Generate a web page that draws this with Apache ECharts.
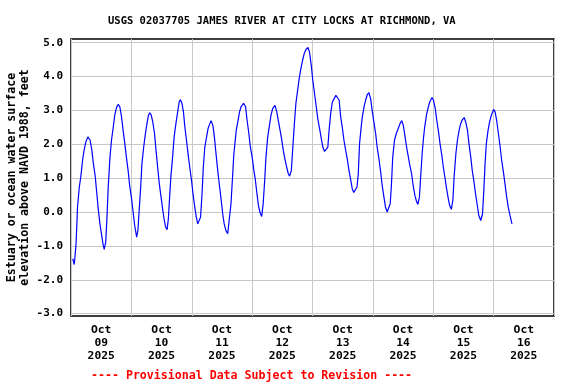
<!DOCTYPE html>
<html>
<head>
<meta charset="utf-8">
<script src="https://cdn.jsdelivr.net/npm/echarts@6/dist/echarts.min.js"></script>
<style>html,body{margin:0;padding:0;background:#fff}#c{width:576px;height:384px}</style>
</head>
<body>
<div id="c"></div>
<script>
// Hours since 2025-10-09 00:00
const hours = [0.7,1.3,2.0,2.6,3.3,3.9,4.6,5.2,5.9,6.7,7.0,7.6,8.3,8.9,9.6,10.2,10.9,11.5,12.2,12.7,13.2,13.8,14.3,14.8,15.5,16.1,16.8,17.4,18.1,18.8,19.4,20.1,20.7,21.4,22.0,22.7,23.3,24.0,24.7,25.3,26.1,26.6,27.1,27.7,28.2,28.9,29.5,30.2,30.8,31.3,31.9,32.5,33.2,33.8,34.5,35.1,35.8,36.5,37.1,37.6,38.2,38.7,39.2,39.7,40.4,41.0,41.7,42.4,43.0,43.5,44.1,44.7,45.2,45.9,46.6,47.2,47.9,48.5,49.2,49.8,50.4,51.0,51.5,52.1,52.6,53.2,53.9,54.5,55.2,55.7,56.4,57.0,57.7,58.4,59.0,59.7,60.3,60.9,61.6,62.3,62.9,63.6,64.3,64.7,65.7,66.3,67.0,67.6,68.6,69.4,70.0,70.7,71.3,72.0,72.7,73.3,74.0,74.6,75.3,75.8,76.4,77.0,77.5,78.2,78.9,79.5,80.2,81.1,81.8,82.4,83.1,83.7,84.4,85.0,85.7,86.4,86.9,87.6,88.1,88.8,89.4,90.1,90.7,91.4,92.1,92.7,93.4,94.2,94.8,95.5,96.1,96.8,97.5,98.1,98.8,99.5,100.1,100.8,101.4,102.1,102.6,103.3,103.9,104.6,105.3,106.0,106.6,107.2,107.9,108.5,109.2,109.9,110.5,111.2,111.8,112.4,113.0,113.7,114.2,114.7,115.3,115.8,116.5,117.1,117.8,118.4,119.1,119.8,120.4,121.1,121.7,122.4,123.1,123.7,124.4,125.0,125.7,126.2,126.9,127.4,127.9,128.6,129.3,130.0,130.8,131.5,132.1,132.8,133.4,134.1,134.7,135.4,136.0,136.7,137.4,137.9,138.5,139.0,139.6,140.1,140.6,141.3,141.9,142.6,143.5,144.1,144.8,145.4,146.1,146.7,147.4,148.0,148.7,149.3,150.0,150.5,151.2,151.8,152.3,153.0,153.6,154.3,154.9,155.6,156.3,156.9,157.6,158.2,158.9,159.5,160.2,160.8,161.5,162.1,162.9,163.6,164.1,164.6,165.1,165.8,166.4,167.1,168.0,168.6,169.3,169.9,170.6,171.2,171.9,172.5,173.2,173.8,174.5,175.3];
// Water surface elevation, feet
const elevation = [-1.38,-1.55,-0.96,0.15,0.74,1.04,1.53,1.82,2.07,2.22,2.23,2.12,1.82,1.43,1.08,0.59,0.05,-0.35,-0.69,-0.94,-1.10,-0.89,-0.15,0.74,1.63,2.12,2.51,2.86,3.09,3.18,3.11,2.81,2.42,2.02,1.63,1.23,0.79,0.44,0.00,-0.39,-0.74,-0.54,0.05,0.74,1.43,1.92,2.27,2.61,2.86,2.93,2.86,2.66,2.32,1.82,1.28,0.84,0.44,0.05,-0.25,-0.44,-0.52,-0.20,0.44,1.04,1.63,2.22,2.61,2.96,3.25,3.32,3.21,2.96,2.56,2.12,1.68,1.33,0.94,0.54,0.15,-0.15,-0.35,-0.40,-0.15,0.54,1.33,1.92,2.22,2.47,2.61,2.70,2.56,2.22,1.68,1.18,0.79,0.35,-0.05,-0.35,-0.55,-0.64,-0.59,0.25,1.13,1.68,2.42,2.66,2.96,3.11,3.21,3.11,2.71,2.32,1.92,1.63,1.23,0.94,0.49,0.15,-0.05,-0.13,0.25,0.94,1.63,2.22,2.56,2.86,3.06,3.15,2.96,2.71,2.42,2.17,1.82,1.58,1.33,1.13,1.06,1.23,1.82,2.61,3.21,3.60,3.94,4.24,4.49,4.68,4.80,4.86,4.73,4.34,3.90,3.50,3.11,2.76,2.47,2.17,1.92,1.79,1.77,1.92,2.42,2.96,3.25,3.35,3.45,3.50,3.30,2.81,2.47,2.12,1.82,1.53,1.23,0.94,0.69,0.58,0.54,0.74,1.13,2.02,2.47,2.81,3.11,3.30,3.47,3.53,3.35,2.96,2.66,2.32,1.92,1.58,1.18,0.79,0.44,0.15,0.00,-0.03,0.25,0.84,1.63,2.12,2.32,2.45,2.61,2.70,2.56,2.22,1.92,1.63,1.38,1.13,0.79,0.49,0.30,0.23,0.44,1.04,1.73,2.17,2.51,2.86,3.06,3.25,3.38,3.30,3.06,2.71,2.37,2.02,1.68,1.33,0.99,0.69,0.39,0.20,0.08,0.35,1.04,1.73,2.12,2.42,2.61,2.73,2.79,2.66,2.42,2.02,1.63,1.23,0.89,0.54,0.20,-0.10,-0.25,-0.05,0.64,1.43,2.02,2.42,2.66,2.86,3.03,2.96,2.66,2.32,1.92,1.53,1.18,0.84,0.44,0.15,-0.10,-0.35];
const dayLabels = ['Oct\n09\n2025','Oct\n10\n2025','Oct\n11\n2025','Oct\n12\n2025','Oct\n13\n2025','Oct\n14\n2025','Oct\n15\n2025','Oct\n16\n2025'];
const dayLabelHours = [12,36,60,84,108,132,156,180];
const yTicks = [-3,-2,-1,0,1,2,3,4,5];
const titleText = 'USGS 02037705 JAMES RIVER AT CITY LOCKS AT RICHMOND, VA';
const yName = 'Estuary or ocean water surface\nelevation above NAVD 1988, feet';
const footText = '---- Provisional Data Subject to Revision ----';

const FONT = 'DejaVu Sans Mono';
const data = hours.map((h, i) => [h, elevation[i]]);
const chart = echarts.init(document.getElementById('c'), null, {renderer: 'canvas'});
chart.setOption({
  animation: false,
  backgroundColor: '#fff',
  title: [
    {text: titleText, left: 108, top: 16, padding: 0, textStyle: {fontFamily: FONT, fontWeight: 'bold', fontSize: 10.5, color: '#000'}},
    {text: footText, left: 91, top: 370, padding: 0, textStyle: {fontFamily: FONT, fontWeight: 'bold', fontSize: 11.6, color: '#ff0000'}}
  ],
  grid: {left: 71, right: 22, top: 39, bottom: 68, outerBoundsMode: 'none', containLabel: false, show: true, borderColor: '#000', borderWidth: 1.5, backgroundColor: 'transparent'},
  xAxis: {
    type: 'value', min: 0, max: 192, interval: 24,
    axisLine: {show: false}, axisTick: {show: false},
    splitLine: {show: true, lineStyle: {color: '#c8c8c8', width: 1}},
    axisLabel: {
      customValues: dayLabelHours,
      formatter: v => dayLabels[dayLabelHours.indexOf(v)],
      fontFamily: FONT, fontWeight: 'bold', fontSize: 11.3, color: '#000', lineHeight: 13, margin: 8
    }
  },
  yAxis: {
    type: 'value', min: -3.07, max: 5.11,
    name: yName, nameLocation: 'middle', nameRotate: 90, nameGap: 40, nameMoveOverlap: false,
    nameTextStyle: {fontFamily: FONT, fontWeight: 'bold', fontSize: 11.6, color: '#000', lineHeight: 13},
    axisLine: {show: false},
    axisTick: {show: false, customValues: yTicks},
    splitLine: {show: true, lineStyle: {color: '#c8c8c8', width: 1}},
    axisLabel: {customValues: yTicks, formatter: v => v.toFixed(1), fontFamily: FONT, fontWeight: 'bold', fontSize: 11, color: '#000', margin: 8}
  },
  series: [{
    type: 'line', data: data, showSymbol: false, smooth: false,
    lineStyle: {color: '#0000ff', width: 1.2}, z: 3
  }]
});
</script>
</body>
</html>
